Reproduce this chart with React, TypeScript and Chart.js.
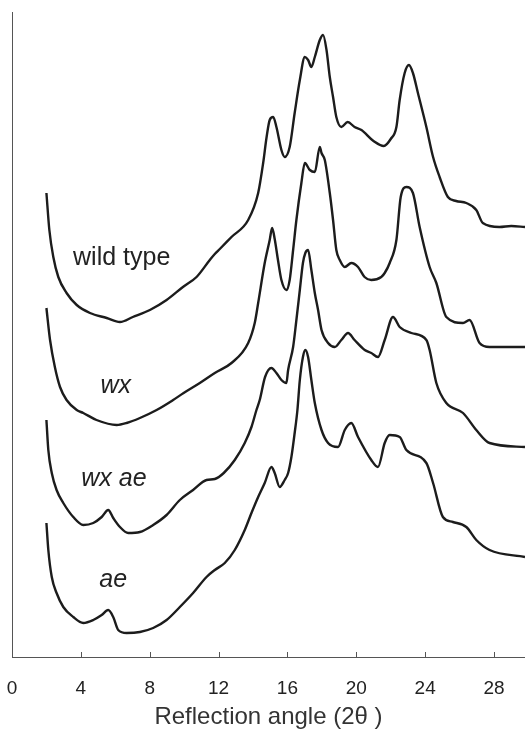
import React, { useEffect, useRef } from "react";
import { Chart, registerables } from "chart.js";

Chart.register(...registerables);

// 2θ positions and intensities (arbitrary, offset-stacked units)
const wildX = [2.0, 2.17, 2.4, 2.69, 3.17, 3.76, 4.53, 5.5, 6.27, 7.02, 8.01, 8.98, 9.93, 10.72, 11.49, 11.78, 12.07, 12.75, 13.72, 14.3, 14.59, 14.79, 14.97, 15.17, 15.36, 15.65, 15.84, 16.13, 16.42, 16.72, 17.01, 17.2, 17.39, 17.59, 17.88, 18.07, 18.27, 18.46, 18.65, 18.84, 19.13, 19.5, 19.9, 20.3, 21.0, 21.6, 22.0, 22.33, 22.52, 22.81, 23.06, 23.29, 23.58, 24.07, 24.46, 24.84, 25.32, 25.8, 26.39, 26.97, 27.35, 28.32, 29.0, 29.8];
const wildY = [464, 427, 400, 380, 364, 352, 344, 339, 335, 340, 347, 357, 370, 380, 397, 403, 408, 420, 437, 464, 494, 520, 537, 540, 530, 507, 500, 510, 544, 577, 600, 597, 590, 600, 617, 622, 607, 580, 560, 540, 530, 535, 530, 527, 516, 511, 518, 530, 557, 584, 592, 584, 564, 530, 500, 480, 460, 456, 454, 447, 434, 430, 431, 430];

const wxX = [2.0, 2.21, 2.49, 2.79, 3.17, 3.76, 4.14, 4.91, 6.08, 6.66, 7.43, 8.4, 9.36, 9.97, 10.91, 11.78, 12.75, 13.72, 14.1, 14.3, 14.68, 14.97, 15.11, 15.26, 15.45, 15.65, 15.94, 16.13, 16.33, 16.52, 16.81, 17.01, 17.3, 17.59, 17.88, 17.98, 18.17, 18.46, 18.65, 18.84, 19.04, 19.33, 19.71, 20.1, 20.48, 20.87, 21.45, 21.65, 21.94, 22.33, 22.58, 22.91, 23.29, 23.68, 24.26, 24.65, 25.23, 26.2, 26.58, 27.16, 27.74, 29.8];
const wxY = [349, 317, 290, 270, 257, 247, 244, 237, 232, 234, 239, 247, 257, 264, 274, 284, 294, 314, 334, 354, 394, 417, 429, 418, 397, 377, 367, 377, 407, 437, 474, 494, 487, 485, 510, 504, 497, 464, 437, 407, 397, 390, 394, 390, 380, 377, 380, 384, 394, 417, 460, 470, 464, 430, 390, 374, 340, 334, 337, 314, 310, 310];

const wxaeX = [2.0, 2.11, 2.31, 2.59, 2.98, 3.56, 4.14, 4.72, 5.21, 5.59, 5.88, 6.27, 6.75, 7.43, 8.2, 8.98, 9.75, 10.52, 11.3, 11.78, 12.3, 12.94, 13.52, 13.91, 14.2, 14.39, 14.7, 15.07, 15.36, 15.65, 15.94, 16.04, 16.33, 16.52, 16.72, 16.9, 17.04, 17.2, 17.39, 17.59, 17.78, 17.98, 18.36, 18.75, 19.13, 19.52, 19.9, 20.49, 20.87, 21.26, 21.65, 22.13, 22.52, 23.2, 24.07, 24.26, 24.65, 25.23, 26.2, 26.97, 27.74, 29.8];
const wxaeY = [237, 207, 184, 167, 154, 140, 132, 134, 140, 147, 139, 130, 124, 125, 132, 142, 157, 167, 177, 178, 184, 197, 214, 230, 247, 257, 280, 289, 284, 277, 274, 287, 310, 337, 367, 394, 404, 407, 387, 364, 347, 327, 314, 310, 317, 324, 317, 307, 304, 300, 317, 340, 330, 324, 317, 307, 274, 254, 244, 227, 214, 210];

const aeX = [2.0, 2.11, 2.31, 2.59, 2.98, 3.56, 4.14, 4.72, 5.21, 5.59, 5.88, 6.17, 6.66, 7.43, 8.2, 8.98, 9.75, 10.52, 11.3, 11.78, 12.36, 12.94, 13.52, 13.91, 14.3, 14.68, 15.07, 15.26, 15.55, 15.84, 16.04, 16.23, 16.42, 16.58, 16.72, 16.9, 17.04, 17.2, 17.39, 17.59, 17.98, 18.36, 18.94, 19.33, 19.71, 20.1, 20.87, 21.26, 21.65, 21.94, 22.52, 22.91, 24.07, 24.46, 25.03, 25.61, 26.39, 26.97, 27.74, 29.8];
const aeY = [134, 107, 80, 64, 50, 40, 34, 37, 42, 47, 40, 27, 24, 25, 29, 37, 50, 64, 80, 87, 94, 107, 127, 144, 160, 174, 190, 184, 170, 177, 184, 200, 224, 247, 277, 300, 307, 300, 277, 254, 227, 214, 210, 227, 234, 220, 197, 190, 214, 222, 220, 207, 194, 174, 140, 135, 130, 117, 107, 100];

const seriesNames = ["wild type", "wx", "wx ae", "ae"];
const seriesX = [wildX, wxX, wxaeX, aeX];
const seriesY = [wildY, wxY, wxaeY, aeY];

// curve labels, placed in data coordinates (2θ, intensity)
const labelTexts = ["wild type", "wx", "wx ae", "ae"];
const labelX = [6.37, 6.03, 5.92, 5.88];
const labelY = [392, 264, 171, 70];
const labelItalic = [false, true, true, true];

const xTickStep = 4;
const xMin = 0;
const xMax = 29.8;
const yMin = 0;
const yMax = 645;
const xTitle = "Reflection angle (2\u03B8 )";

const FONT = "'Liberation Sans', Arial, Helvetica, sans-serif";

const inwardTicks = {
  id: "inwardTicks",
  afterDraw(chart: any) {
    const { ctx, scales } = chart;
    const xs = scales.x;
    const bottom = chart.chartArea.bottom;
    ctx.save();
    ctx.strokeStyle = "#555";
    ctx.lineWidth = 1;
    xs.ticks.forEach((t: any) => {
      const px = Math.round(xs.getPixelForValue(t.value)) + 0.5;
      ctx.beginPath();
      ctx.moveTo(px, bottom);
      ctx.lineTo(px, bottom - 5);
      ctx.stroke();
    });
    ctx.restore();
  },
};

const curveLabels = {
  id: "curveLabels",
  afterDatasetsDraw(chart: any) {
    const { ctx, scales } = chart;
    ctx.save();
    ctx.fillStyle = "#222";
    ctx.textAlign = "center";
    ctx.textBaseline = "alphabetic";
    labelTexts.forEach((txt, i) => {
      ctx.font = `${labelItalic[i] ? "italic " : ""}25px ${FONT}`;
      ctx.fillText(txt, scales.x.getPixelForValue(labelX[i]), scales.y.getPixelForValue(labelY[i]));
    });
    ctx.restore();
  },
};

export default function App() {
  const canvasRef = useRef<HTMLCanvasElement | null>(null);

  useEffect(() => {
    document.body.style.margin = "0";
    const canvas = canvasRef.current;
    if (!canvas) return;
    const datasets = seriesNames.map((name, i) => ({
      label: name,
      data: seriesX[i].map((x, j) => ({ x, y: seriesY[i][j] })),
      borderColor: "#1c1c1c",
      borderWidth: 2.4,
      pointRadius: 0,
      fill: false,
      cubicInterpolationMode: "monotone" as const,
    }));
    const chart = new Chart(canvas, {
      type: "line",
      data: { datasets },
      plugins: [inwardTicks, curveLabels],
      options: {
        animation: false,
        responsive: false,
        maintainAspectRatio: false,
        layout: { padding: { top: 12, left: 0, right: 0, bottom: 0 } },
        plugins: { legend: { display: false }, tooltip: { enabled: false } },
        scales: {
          x: {
            type: "linear",
            min: xMin,
            max: xMax,
            grid: {
              display: true,
              drawOnChartArea: false,
              drawTicks: true,
              tickLength: 20,
              tickColor: "rgba(0,0,0,0)",
            },
            border: { display: true, color: "#555", width: 1 },
            ticks: {
              stepSize: xTickStep,
              includeBounds: false,
              padding: 0,
              color: "#222",
              font: { family: FONT, size: 19 },
              maxRotation: 0,
              autoSkip: false,
            },
            title: {
              display: true,
              text: xTitle,
              color: "#333",
              font: { family: FONT, size: 24 },
              padding: { top: 0, bottom: 0 },
            },
            afterFit(scale: any) {
              scale.height = 75;
            },
          },
          y: {
            type: "linear",
            min: yMin,
            max: yMax,
            grid: { display: false, drawTicks: false },
            border: { display: true, color: "#555", width: 1 },
            ticks: { display: false },
            afterFit(scale: any) {
              scale.width = 12;
            },
          },
        },
      },
    });
    return () => chart.destroy();
  }, []);

  return (
    <div style={{ width: 525, height: 732, background: "#fff" }}>
      <canvas ref={canvasRef} width={525} height={732} style={{ display: "block", width: 525, height: 732 }} />
    </div>
  );
}
